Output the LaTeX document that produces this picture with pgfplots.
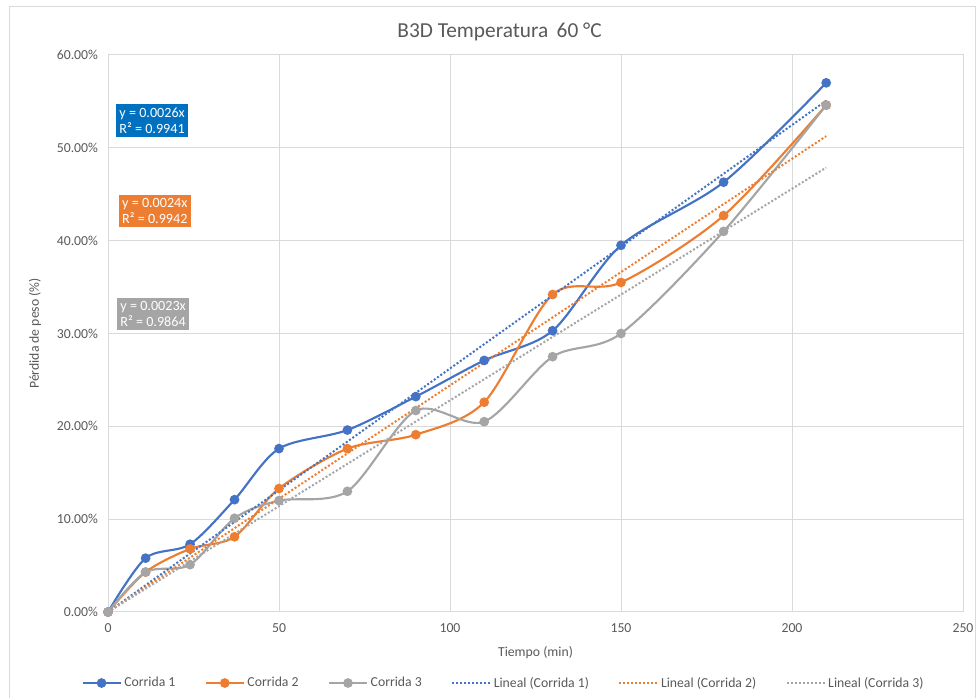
\documentclass[border=0pt]{standalone}
\usepackage{pgfplots}
\pgfplotsset{compat=1.18}
\usepackage{fontspec}
\setmainfont{Carlito}
\definecolor{c1}{HTML}{4472C4}
\definecolor{c2}{HTML}{ED7D31}
\definecolor{c3}{HTML}{A5A5A5}
\definecolor{boxblue}{HTML}{0070C0}
\definecolor{gridc}{HTML}{D9D9D9}
\definecolor{txt}{HTML}{595959}
\begin{document}
\begin{tikzpicture}
\useasboundingbox (0pt,0pt) rectangle (735pt,523.5pt);
\draw[gridc, line width=0.75pt] (6.75pt,-5pt) -- (6.75pt,518.5pt) -- (731.25pt,518.5pt) -- (731.25pt,-5pt);
\begin{axis}[
  at={(81pt,64.5pt)}, anchor=south west,
  scale only axis, width=641.25pt, height=417.75pt,
  xmin=0, xmax=250, ymin=0, ymax=0.6,
  xtick={0,50,...,250}, ytick={0,0.1,...,0.6},
  grid=major, grid style={gridc, line width=0.75pt},
  axis line style={gridc, line width=0.75pt},
  tick style={draw=none},
  /pgf/number format/assume math mode=true,
  font=\fontsize{10.3}{12}\selectfont,
  ticklabel style={text=txt},
  yticklabel={\pgfmathparse{\tick*100}\pgfmathprintnumber[fixed,fixed zerofill,precision=2]{\pgfmathresult}\%},
  yticklabel style={xshift=-4pt},
  xticklabel style={yshift=-5pt},
  xlabel={Tiempo (min)}, ylabel={Pérdida de peso (\%)},
  xlabel style={text=txt, yshift=-4pt}, ylabel style={text=txt, yshift=5pt},
  title={B3D Temperatura\, 60 °C},
  title style={at={(0.458,1)}, font=\fontsize{16}{19}\selectfont, text=txt, yshift=1pt},
  legend columns=6,
  legend style={at={(0.463,-0.1275)}, anchor=center, draw=none, fill=none,
    font=\fontsize{10.3}{12}\selectfont, text=txt,
    /tikz/every even column/.append style={column sep=20pt}},
  legend image code/.code={\draw[mark repeat=2,mark phase=2,#1] plot coordinates {(0cm,0cm) (0.5cm,0cm) (1.0cm,0cm)};},
  clip=false,
]
\addplot[c1, line width=1.6pt, smooth, mark=*, mark size=2.8pt, mark options={solid, fill=c1}] coordinates {
(0,0) (11,0.058) (24,0.073) (37,0.121) (50,0.176) (70,0.196) (90,0.232) (110,0.271) (130,0.303) (150,0.395) (180,0.463) (210,0.570)};
\addlegendentry{Corrida 1}
\addplot[c2, line width=1.6pt, smooth, mark=*, mark size=2.8pt, mark options={solid, fill=c2}] coordinates {
(0,0) (11,0.043) (24,0.068) (37,0.081) (50,0.133) (70,0.176) (90,0.191) (110,0.226) (130,0.342) (150,0.355) (180,0.427) (210,0.546)};
\addlegendentry{Corrida 2}
\addplot[c3, line width=1.6pt, smooth, mark=*, mark size=2.8pt, mark options={solid, fill=c3}] coordinates {
(0,0) (11,0.043) (24,0.051) (37,0.101) (50,0.120) (70,0.130) (90,0.217) (110,0.205) (130,0.275) (150,0.300) (180,0.410) (210,0.546)};
\addlegendentry{Corrida 3}
\addplot[c1, line width=1.5pt, dash pattern=on 1.5pt off 1.5pt] coordinates {(0,0) (210,0.5508)};
\addlegendentry{Lineal (Corrida 1)}
\addplot[c2, line width=1.5pt, dash pattern=on 1.5pt off 1.5pt] coordinates {(0,0) (210,0.5126)};
\addlegendentry{Lineal (Corrida 2)}
\addplot[c3, line width=1.5pt, dash pattern=on 1.5pt off 1.5pt] coordinates {(0,0) (210,0.4787)};
\addlegendentry{Lineal (Corrida 3)}
\node[fill=boxblue, text=white, align=left, inner sep=2.5pt, font=\fontsize{10.6}{12.5}\selectfont] at (axis cs:12.9,0.529) {y = 0.0026x\\R² = 0.9941};
\node[fill=c2, text=white, align=left, inner sep=2.5pt, font=\fontsize{10.6}{12.5}\selectfont] at (axis cs:13.7,0.432) {y = 0.0024x\\R² = 0.9942};
\node[fill=c3, text=white, align=left, inner sep=2.5pt, font=\fontsize{10.6}{12.5}\selectfont] at (axis cs:13.2,0.321) {y = 0.0023x\\R² = 0.9864};
\end{axis}
\end{tikzpicture}
\end{document}
